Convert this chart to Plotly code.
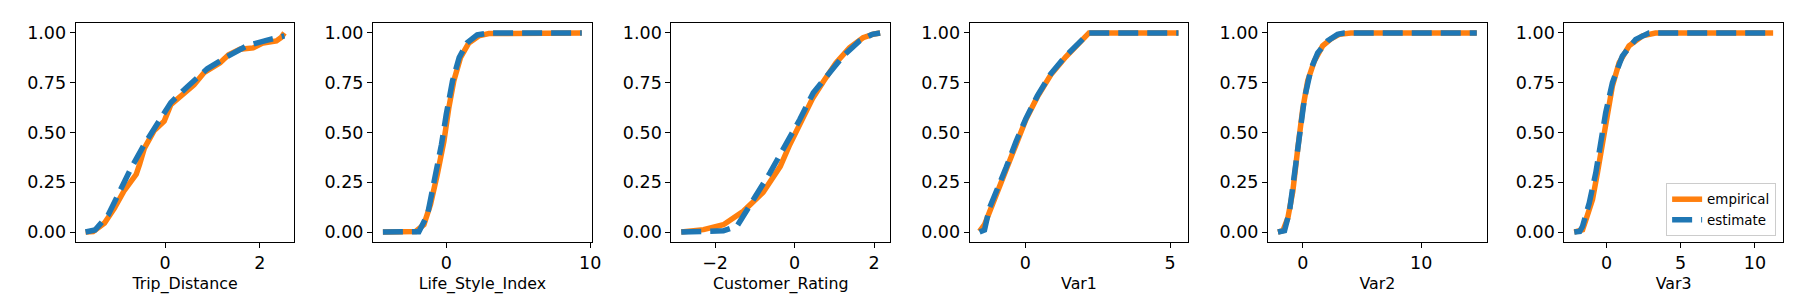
import plotly.graph_objects as go

variables = ["Trip_Distance", "Life_Style_Index", "Customer_Rating", "Var1", "Var2", "Var3"]

trip_emp_x = [-1.68, -1.52, -1.28, -1.07, -0.86, -0.61, -0.54, -0.44, -0.23, -0.02, 0.12, 0.33, 0.61, 0.82, 1.16, 1.34, 1.58, 1.86, 2.07, 2.35, 2.45, 2.52]
trip_emp_y = [0, 0.003, 0.045, 0.12, 0.21, 0.29, 0.34, 0.42, 0.51, 0.557, 0.64, 0.68, 0.74, 0.80, 0.85, 0.89, 0.918, 0.925, 0.95, 0.96, 0.977, 1.0]
trip_est_x = [-1.68, -1.48, -1.2, -1.0, -0.72, -0.44, -0.16, 0.12, 0.47, 0.89, 1.30, 1.72, 2.14, 2.52]
trip_est_y = [0, 0.01, 0.087, 0.19, 0.32, 0.44, 0.55, 0.65, 0.73, 0.82, 0.88, 0.935, 0.963, 0.985]

life_emp_x = [-4.4, -2.12, -1.55, -1.09, -0.62, -0.16, 0.18, 0.53, 0.99, 1.57, 2.26, 2.96, 9.42]
life_emp_y = [0, 0.003, 0.037, 0.14, 0.29, 0.456, 0.624, 0.76, 0.876, 0.95, 0.985, 0.997, 1.0]
life_est_x = [-4.4, -1.9, -1.3, -0.8, -0.33, 0.0, 0.44, 0.9, 1.45, 2.15, 2.96, 9.42]
life_est_y = [0, 0.002, 0.087, 0.255, 0.44, 0.59, 0.76, 0.876, 0.95, 0.99, 1.0, 1.0]

cust_emp_x = [-2.85, -2.29, -1.79, -1.29, -0.79, -0.36, -0.12, 0.17, 0.45, 0.72, 1.04, 1.38, 1.72, 2.0, 2.15]
cust_emp_y = [0, 0.012, 0.037, 0.104, 0.2, 0.33, 0.44, 0.56, 0.67, 0.755, 0.85, 0.926, 0.976, 0.995, 1.0]
cust_est_x = [-2.85, -1.9, -1.79, -1.45, -1.03, -0.62, -0.2, 0.13, 0.47, 0.88, 1.22, 1.63, 1.95, 2.15]
cust_est_y = [0, 0.004, 0.006, 0.029, 0.163, 0.297, 0.448, 0.565, 0.70, 0.80, 0.884, 0.96, 0.993, 1.0]

var1_emp_x = [-1.58, -1.41, -1.24, -0.95, -0.66, -0.32, 0.02, 0.42, 0.88, 1.40, 1.85, 2.20, 5.29]
var1_emp_y = [0.003, 0.037, 0.10, 0.21, 0.32, 0.45, 0.565, 0.68, 0.79, 0.88, 0.95, 1.0, 1.0]
var1_est_x = [-1.58, -1.41, -1.24, -0.95, -0.66, -0.32, 0.02, 0.42, 0.88, 1.40, 1.85, 2.20, 5.29]
var1_est_y = [0.0, 0.01, 0.12, 0.215, 0.325, 0.455, 0.57, 0.685, 0.795, 0.885, 0.952, 1.0, 1.0]

var2_emp_x = [-2.1, -1.68, -1.26, -0.84, -0.42, 0, 0.42, 0.98, 1.68, 2.38, 3.08, 4.06, 14.7]
var2_emp_y = [0, 0.007, 0.07, 0.205, 0.42, 0.62, 0.76, 0.86, 0.935, 0.97, 0.993, 1.0, 1.0]
var2_est_x = [-2.1, -1.54, -1.12, -0.70, -0.28, 0.14, 0.70, 1.26, 2.1, 2.94, 3.5, 14.7]
var2_est_y = [0, 0.007, 0.104, 0.29, 0.49, 0.67, 0.82, 0.90, 0.96, 0.993, 1.0, 1.0]

var3_emp_x = [-2.17, -1.9, -1.61, -1.38, -0.94, -0.61, -0.27, 0.06, 0.40, 0.85, 1.52, 2.41, 3.3, 11.23]
var3_emp_y = [0, 0.003, 0.012, 0.062, 0.163, 0.297, 0.448, 0.60, 0.733, 0.85, 0.935, 0.985, 1.0, 1.0]
var3_est_x = [-2.17, -1.8, -1.61, -1.16, -0.72, -0.38, -0.05, 0.40, 1.07, 1.97, 2.86, 11.23]
var3_est_y = [0, 0.003, 0.029, 0.146, 0.297, 0.448, 0.60, 0.75, 0.884, 0.968, 1.0, 1.0]

x_tickvals = [[0, 2], [0, 10], [-2, 0, 2], [0, 5], [0, 10], [0, 5, 10]]
y_tickvals = [0, 0.25, 0.5, 0.75, 1.0]

series = [
    (trip_emp_x, trip_emp_y, trip_est_x, trip_est_y),
    (life_emp_x, life_emp_y, life_est_x, life_est_y),
    (cust_emp_x, cust_emp_y, cust_est_x, cust_est_y),
    (var1_emp_x, var1_emp_y, var1_est_x, var1_est_y),
    (var2_emp_x, var2_emp_y, var2_est_x, var2_est_y),
    (var3_emp_x, var3_emp_y, var3_est_x, var3_est_y),
]

W, H = 1800, 300
lefts = [68, 367, 667, 967, 1267, 1565]
pw = 220
top, bottom = 15, 234

ORANGE = "#ff7f0e"
BLUE = "#1f77b4"
FONT = "DejaVu Sans"

fig = go.Figure()
layout = dict(
    width=W, height=H,
    margin=dict(l=0, r=0, t=0, b=0),
    paper_bgcolor="white", plot_bgcolor="white",
    font=dict(family=FONT, color="black", size=17.5),
    showlegend=True,
    legend=dict(
        x=1778 / W, y=1 - 228 / H, xanchor="right", yanchor="bottom",
        bgcolor="rgba(255,255,255,0.8)", bordercolor="#cccccc", borderwidth=1,
        font=dict(family=FONT, size=13.4, color="black"),
        tracegroupgap=0,
    ),
)

for i, (name, (ex, ey, sx, sy)) in enumerate(zip(variables, series)):
    ax = "" if i == 0 else str(i + 1)
    lo = min(ex + sx)
    hi = max(ex + sx)
    pad = (hi - lo) * 0.05
    fig.add_trace(go.Scatter(
        x=ex, y=ey, mode="lines", name="empirical",
        line=dict(color=ORANGE, width=5.5),
        xaxis="x" + ax, yaxis="y" + ax, showlegend=(i == 5),
    ))
    fig.add_trace(go.Scatter(
        x=sx, y=sy, mode="lines", name="estimate",
        line=dict(color=BLUE, width=5.5, dash="20px,9px"),
        xaxis="x" + ax, yaxis="y" + ax, showlegend=(i == 5),
    ))
    common = dict(
        showline=True, mirror=True, linecolor="black", linewidth=1,
        ticks="outside", ticklen=5, tickwidth=1, tickcolor="black",
        showgrid=False, zeroline=False,
        tickfont=dict(family=FONT, size=17.5, color="black"),
    )
    layout["xaxis" + ax] = dict(
        domain=[lefts[i] / W, (lefts[i] + pw) / W],
        anchor="y" + ax,
        range=[lo - pad, hi + pad],
        tickmode="array", tickvals=x_tickvals[i],
        title=dict(text=name, font=dict(family=FONT, size=15.8, color="black"), standoff=5),
        **common,
    )
    layout["yaxis" + ax] = dict(
        domain=[1 - bottom / H, 1 - top / H],
        anchor="x" + ax,
        range=[-0.05, 1.05],
        tickmode="array", tickvals=y_tickvals, tickformat=".2f",
        **common,
    )

fig.update_layout(**layout)
fig.write_html("out.html")
